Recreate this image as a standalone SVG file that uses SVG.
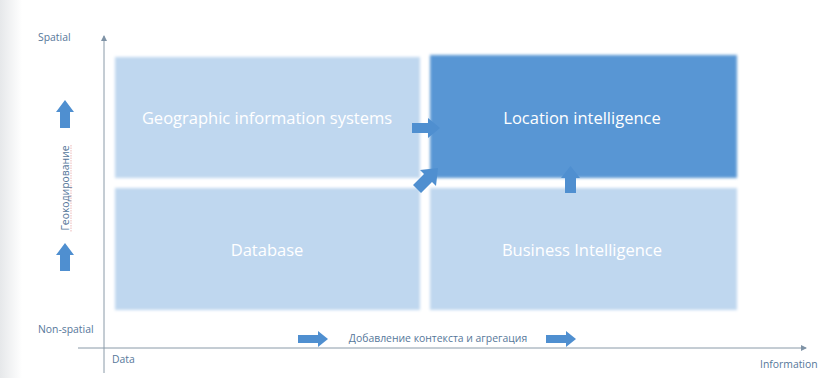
<svg xmlns="http://www.w3.org/2000/svg" width="827" height="378" viewBox="0 0 827 378">
<style>
.lbl{font-family:"Open Sans","Liberation Sans",sans-serif;font-size:10.4px;fill:#56779a}
.box-light{fill:#bfd7ef}
.box-dark{fill:#5896d4}
.btxt{font-family:"Open Sans","Liberation Sans",sans-serif;font-size:16.5px;fill:#ffffff;text-anchor:middle}
.arr{fill:#4f8fd0}
.axis{stroke:#8a9aa8;stroke-width:1;fill:none}
</style>
<defs>
<filter id="soft" x="-5%" y="-10%" width="110%" height="120%"><feGaussianBlur stdDeviation="1.5"/></filter>
<linearGradient id="lside" x1="0" x2="1" y1="0" y2="0"><stop offset="0" stop-color="#e6e8ea"/><stop offset="1" stop-color="#ffffff"/></linearGradient>
<marker id="ah" markerWidth="6" markerHeight="6" refX="5" refY="3" orient="auto" markerUnits="userSpaceOnUse"><path d="M0,0 L6,3 L0,6 z" fill="#7f93a6"/></marker>
</defs>
<rect width="827" height="378" fill="#ffffff"/>
<rect x="0" y="0" width="22" height="378" fill="url(#lside)"/>

<g id="gis"><rect class="box-light" x="115" y="57" width="305" height="121" filter="url(#soft)"/><text class="btxt" x="267" y="124">Geographic information systems</text></g>
<g id="location-intelligence"><rect class="box-dark" x="430" y="55" width="307" height="123" filter="url(#soft)"/><text class="btxt" x="582" y="124">Location intelligence</text></g>
<g id="database"><rect class="box-light" x="115" y="188" width="305" height="122" filter="url(#soft)"/><text class="btxt" x="267" y="256">Database</text></g>
<g id="business-intelligence"><rect class="box-light" x="430" y="188" width="307" height="122" filter="url(#soft)"/><text class="btxt" x="582" y="256">Business Intelligence</text></g>

<g id="axes">
<line class="axis" x1="104" y1="373" x2="104" y2="36" marker-end="url(#ah)"/>
<line class="axis" x1="78" y1="348" x2="806" y2="348" marker-end="url(#ah)"/>
<text class="lbl" x="38" y="41">Spatial</text>
<text class="lbl" x="38" y="333">Non-spatial</text>
<text class="lbl" x="112" y="363">Data</text>
<text class="lbl" x="760" y="368">Information</text>
<text class="lbl" x="438" y="342" text-anchor="middle">Добавление контекста и агрегация</text>
<text class="lbl" transform="translate(69,188) rotate(-90)" text-anchor="middle">Геокодирование</text>
<line x1="71" y1="145" x2="71" y2="232" stroke="#e08a8a" stroke-width="0.6" stroke-dasharray="1.5,1"/>
</g>

<g id="connectors">
<path class="arr" d="M412,123 H428 V118 L440,128 L428,138 V133 H412 Z"/>
<path class="arr" d="M413,185 L424,174 L420,170 L438,168 L436,186 L432,182 L421,193 Z"/>
<path class="arr" d="M565,193 V178 H561 L570.5,166 L580,178 H576 V193 Z"/>
<path class="arr" d="M60,128 V112 H56 L65,100 L74,112 H70 V128 Z"/>
<path class="arr" d="M60,271 V255 H56 L65,243 L74,255 H70 V271 Z"/>
<path class="arr" d="M298,335 H318 V331 L328,339 L318,347 V343 H298 Z"/>
<path class="arr" d="M546,335 H566 V331 L576,339 L566,347 V343 H546 Z"/>
</g>
</svg>
